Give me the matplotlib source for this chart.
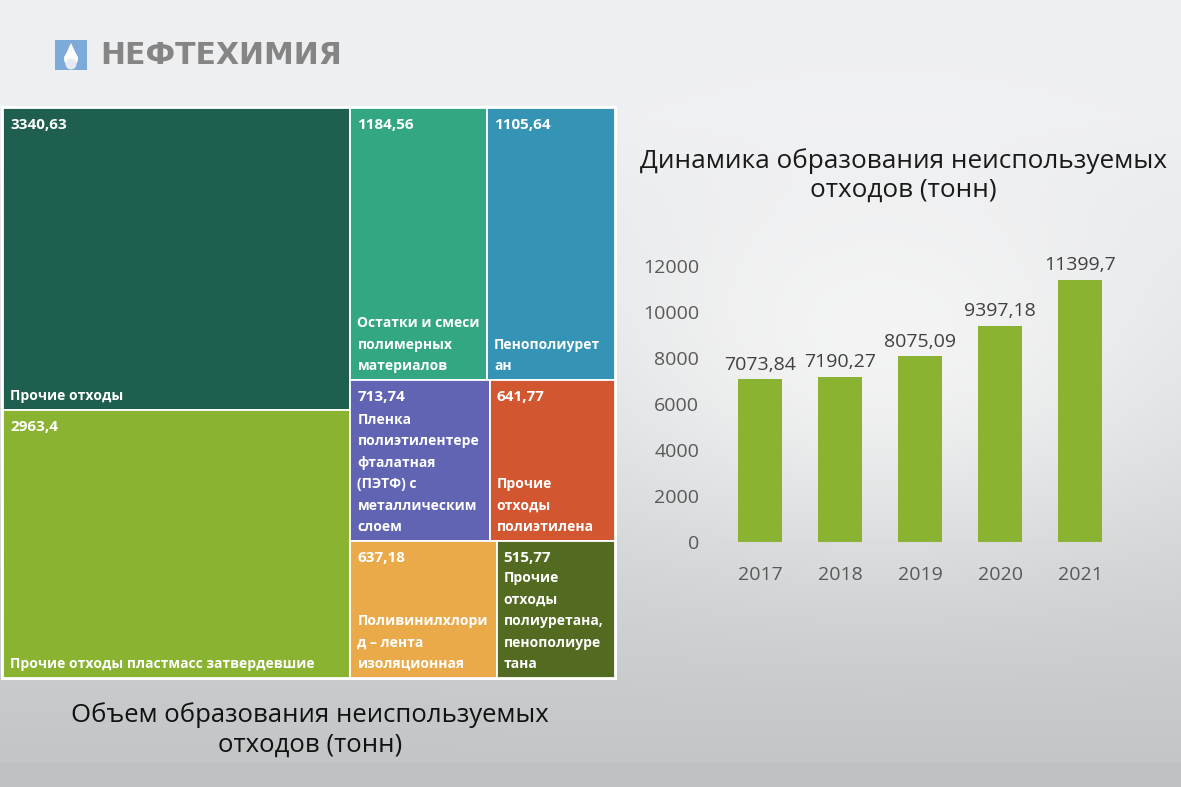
import numpy as np
import matplotlib
matplotlib.use("Agg")
import matplotlib.pyplot as plt
from matplotlib.patches import Rectangle, Polygon, Circle
from matplotlib import font_manager as fm

# ---------------- data ----------------
tm_values = [3340.63, 2963.4, 1184.56, 1105.64, 713.74, 641.77, 637.18, 515.77]
tm_value_labels = ["3340,63", "2963,4", "1184,56", "1105,64", "713,74", "641,77", "637,18", "515,77"]
tm_labels = [
    "Прочие отходы",
    "Прочие отходы пластмасс затвердевшие",
    "Остатки и смеси\nполимерных\nматериалов",
    "Пенополиурет\nан",
    "Пленка\nполиэтилентере\nфталатная\n(ПЭТФ) с\nметаллическим\nслоем",
    "Прочие\nотходы\nполиэтилена",
    "Поливинилхлори\nд – лента\nизоляционная",
    "Прочие\nотходы\nполиуретана,\nпенополиуре\nтана",
]
tm_colors = ["#1f5f4f", "#8ab332", "#33a683", "#3593b5",
             "#6163b3", "#d25630", "#eaaa4a", "#536b20"]
# structure: left column (stacked), right block = rows of pairs
tm_left = [0, 1]
tm_right_rows = [[2, 3], [4, 5], [6, 7]]

years = ["2017", "2018", "2019", "2020", "2021"]
bar_values = [7073.84, 7190.27, 8075.09, 9397.18, 11399.7]
bar_labels = ["7073,84", "7190,27", "8075,09", "9397,18", "11399,7"]
y_ticks = [0, 2000, 4000, 6000, 8000, 10000, 12000]

title_right = "Динамика образования неиспользуемых\nотходов (тонн)"
title_left = "Объем образования неиспользуемых\nотходов (тонн)"
logo_text = "НЕФТЕХИМИЯ"

# ---------------- fonts ----------------
names = {f.name for f in fm.fontManager.ttflist}
main_font = "Open Sans" if "Open Sans" in names else "DejaVu Sans"
plt.rcParams["font.family"] = [main_font, "DejaVu Sans"]

W, H = 1181, 787
fig = plt.figure(figsize=(W / 100, H / 100), dpi=100)

# ---------------- background ----------------
bg = fig.add_axes([0, 0, 1, 1])
bg.set_xlim(0, W)
bg.set_ylim(H, 0)
bg.axis("off")
yy, xx = np.mgrid[0:H, 0:W]
top = np.array([0xee, 0xef, 0xf1]) / 255.0
bot = np.array([0xc3, 0xc6, 0xc7]) / 255.0
t = np.clip((yy - 120) / 640.0, 0, 1)[..., None]
base = top * (1 - t) + bot * t
d2 = ((xx - 880) / 380.0) ** 2 + ((yy - 340) / 240.0) ** 2
hl = np.exp(-1.6 * d2)[..., None]
img = base * (1 - 0.8 * hl) + np.array([0.975, 0.975, 0.975]) * 0.8 * hl
img[763:, :, :] = np.array([0xbf, 0xc2, 0xc3]) / 255.0
bg.imshow(img, extent=(0, W, H, 0), aspect="auto", zorder=0)
# thin white frame behind treemap
bg.add_patch(Rectangle((1, 106), 616, 574, facecolor="#ffffff", edgecolor="none", zorder=1))

# logo
bg.add_patch(Rectangle((55, 40), 32, 30, facecolor="#7eaad9", edgecolor="none", zorder=2))
bg.add_patch(Polygon([(71, 43), (64, 58), (78, 58)], closed=True, facecolor="#ffffff", edgecolor="none", zorder=3))
bg.add_patch(Circle((71, 59), 7, facecolor="#ffffff", edgecolor="none", zorder=3))
bg.add_patch(Circle((71, 64), 5.5, facecolor="#e6ebf1", edgecolor="none", zorder=3))
bg.text(100, 55, logo_text, fontsize=21.5, fontweight="bold", color="#858585",
        family=["DejaVu Sans"], va="center", ha="left", zorder=3)

# ---------------- treemap ----------------
tx0, ty0, tw, th = 3, 108, 612, 570
tm = fig.add_axes([tx0 / W, 1 - (ty0 + th) / H, tw / W, th / H])
tm.set_xlim(0, 1)
tm.set_ylim(1, 0)
tm.axis("off")

total = sum(tm_values)
rects = {}
left_sum = sum(tm_values[i] for i in tm_left)
lw = left_sum / total
y = 0.0
for i in tm_left:
    h = tm_values[i] / left_sum
    rects[i] = (0.0, y, lw, h)
    y += h
right_sum = total - left_sum
y = 0.0
for row in tm_right_rows:
    rs = sum(tm_values[i] for i in row)
    rh = rs / right_sum
    x = lw
    for i in row:
        w = (1 - lw) * tm_values[i] / rs
        rects[i] = (x, y, w, rh)
        x += w
    y += rh

for i, (x, y, w, h) in rects.items():
    tm.add_patch(Rectangle((x, y), w, h, facecolor=tm_colors[i], edgecolor="white", linewidth=1.3))
    tm.annotate(tm_value_labels[i], xy=(x, y), xytext=(5, -7), textcoords="offset points",
                ha="left", va="top", color="white", fontsize=11, fontweight="bold")
    tm.annotate(tm_labels[i], xy=(x, y + h), xytext=(5, 5), textcoords="offset points",
                ha="left", va="bottom", color="white", fontsize=10, fontweight="bold",
                linespacing=1.68)

fig.text(310 / W, 1 - 730 / H, title_left, ha="center", va="center", fontsize=18.5,
         color="#111111", linespacing=1.25)

# ---------------- bar chart ----------------
ax = fig.add_axes([720 / W, 1 - 542 / H, 400 / W, 276 / H])
ax.patch.set_alpha(0)
xpos = np.arange(len(years))
ax.bar(xpos, bar_values, width=0.56, color="#8ab332", zorder=2)
ax.set_xlim(-0.5, len(years) - 0.5)
ax.set_ylim(0, 12000)
ax.set_yticks(y_ticks)
ax.set_yticklabels([str(v) for v in y_ticks])
ax.set_xticks(xpos)
ax.set_xticklabels(years)
for s in ["top", "right", "left"]:
    ax.spines[s].set_visible(False)
ax.spines["bottom"].set_color("#d9d9d9")
ax.tick_params(axis="both", length=0, colors="#595959", labelsize=14)
ax.tick_params(axis="y", pad=15)
ax.tick_params(axis="x", pad=17)
for xi, v, lab in zip(xpos, bar_values, bar_labels):
    ax.annotate(lab, xy=(xi, v), xytext=(0, 4), textcoords="offset points",
                ha="center", va="bottom", fontsize=14, color="#404040", annotation_clip=False)

fig.text(903 / W, 1 - 175 / H, title_right, ha="center", va="center", fontsize=18.8,
         color="#1a1a1a", linespacing=1.2)

fig.savefig("out.png", dpi=100)
